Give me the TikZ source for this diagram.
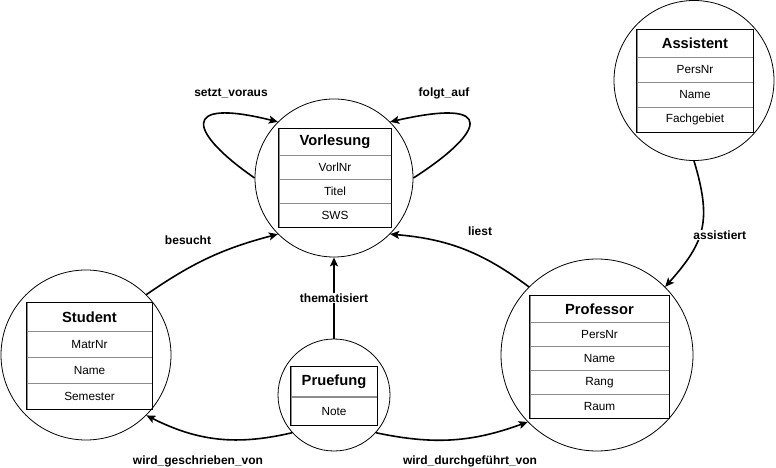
\documentclass[tikz,border=0pt]{standalone}
\usepackage{fontspec}
\setmainfont{Liberation Sans}
\usepackage{tikz}
\usetikzlibrary{arrows.meta,positioning}

\tikzset{
  ent/.style={circle, draw, line width=0.8bp, inner sep=0pt},
  ttl/.style={draw=black!45, line width=0.7bp, inner sep=0pt, anchor=north,
    font=\fontsize{14.7bp}{16bp}\selectfont\bfseries},
  att/.style={draw=black!45, line width=0.7bp, inner sep=0pt, anchor=north,
    font=\fontsize{11.8bp}{14bp}\selectfont},
  tab/.style={draw, line width=0.9bp},
  rel/.style={line width=1.6bp, -{Stealth[length=9bp,width=8bp,inset=2bp]}},
  lbl/.style={font=\fontsize{12bp}{14bp}\selectfont\bfseries, inner sep=1bp}
}

\begin{document}
\begin{tikzpicture}[x=1bp, y=-1bp]
\useasboundingbox (0,0) rectangle (776,468);

% Vorlesung
\node[ent, minimum size=158bp] (vorl) at (334,178) {};
\node[ttl, minimum width=112bp, minimum height=27bp] (vorlT) at (335,128) {Vorlesung};
\foreach \a [count=\i] in {VorlNr,Titel,SWS}
  \node[att, minimum width=112bp, minimum height=24bp] (vorlA\i) at (335,{131+\i*24}) {\a};
\draw[tab] (vorlT.north west) rectangle (vorlA3.south east);

% Assistent
\node[ent, minimum size=160bp] (asst) at (694,80.5) {};
\node[ttl, minimum width=116bp, minimum height=28bp] (asstT) at (695,29) {Assistent};
\foreach \a [count=\i] in {PersNr,Name,Fachgebiet}
  \node[att, minimum width=116bp, minimum height=25bp] (asstA\i) at (695,{32+\i*25}) {\a};
\draw[tab] (asstT.north west) rectangle (asstA3.south east);

% Student
\node[ent, minimum size=170bp] (stud) at (86,355) {};
\node[ttl, minimum width=125bp, minimum height=29bp] (studT) at (89.5,302) {Student};
\foreach \a [count=\i] in {MatrNr,Name,Semester}
  \node[att, minimum width=125bp, minimum height=26bp] (studA\i) at (89.5,{305+\i*26}) {\a};
\draw[tab] (studT.north west) rectangle (studA3.south east);

% Pruefung
\node[ent, minimum size=112bp] (pruef) at (334,395) {};
\node[ttl, minimum width=86bp, minimum height=30bp] (pruefT) at (334,366) {Pruefung};
\node[att, minimum width=86bp, minimum height=28bp, below=0pt of pruefT] (pruefA1) {Note};
\draw[tab] (pruefT.north west) rectangle (pruefA1.south east);

% Professor
\node[ent, minimum size=192bp] (prof) at (597,355) {};
\node[ttl, minimum width=139bp, minimum height=27bp] (profT) at (599.5,295) {Professor};
\foreach \a [count=\i] in {PersNr,Name,Rang,Raum}
  \node[att, minimum width=139bp, minimum height=24bp] (profA\i) at (599.5,{298+\i*24}) {\a};
\draw[tab] (profT.north west) rectangle (profA4.south east);

% Beziehungen
\draw[rel] (vorl.180) .. controls +(-65,-45) and +(-100,-25) .. (vorl.135);
\draw[rel] (vorl.0) .. controls +(70,-45) and +(110,-25) .. (vorl.45);
\draw[rel] (stud.45) to[bend left=10] (vorl.225);
\draw[rel] (prof.135) to[bend right=16] (vorl.315);
\draw[rel] (pruef.north) -- (vorl.south)
  node[lbl, fill=white, midway] (themL) {thematisiert};
\draw[rel] (asst.270) .. controls +(18,60) and +(40,-45) .. (prof.45)
  node[lbl, fill=white, pos=0.55, xshift=20bp] (asstL) {assistiert};
\draw[rel] (pruef.222) to[bend left=20] (stud.-45);
\draw[rel] (pruef.-42) to[bend right=16] (prof.224);

\node[lbl] (vorausL) at (231,93) {setzt\_voraus};
\node[lbl] (folgtL) at (444,93) {folgt\_auf};
\node[lbl] (besuchtL) at (188,240) {besucht};
\node[lbl] (liestL) at (480,231) {liest};
\node[lbl] (schreibL) at (198,461) {wird\_geschrieben\_von};
\node[lbl] (durchL) at (470,461) {wird\_durchgeführt\_von};
\end{tikzpicture}
\end{document}
